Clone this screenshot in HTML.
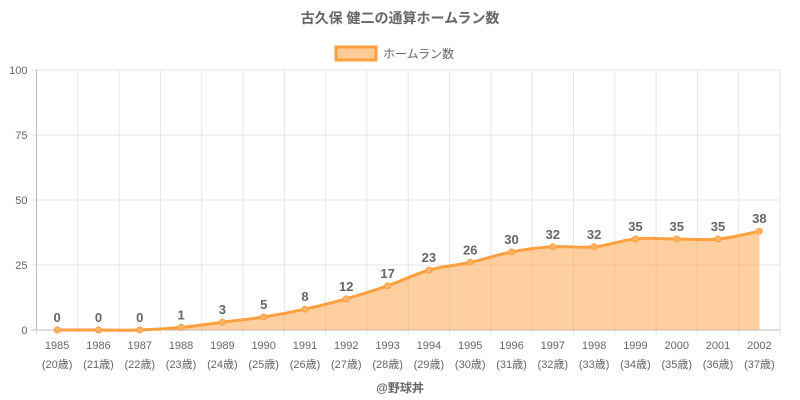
<!DOCTYPE html>
<html><head><meta charset="utf-8"><style>
html,body{margin:0;padding:0;background:#fff;}
svg{display:block;font-family:"Liberation Sans","Noto Sans CJK JP",sans-serif;}
</style></head><body>
<svg id="c" width="800" height="400" xmlns="http://www.w3.org/2000/svg">
<text x="400" y="23" text-anchor="middle" font-size="14" font-weight="bold" fill="#666">古久保 健二の通算ホームラン数</text>
<rect x="336" y="47" width="40" height="13" fill="#ffcc99" stroke="#ff9f40" stroke-width="3"/>
<text x="383" y="58" font-size="12" fill="#666">ホームラン数</text>
<text x="400" y="392" text-anchor="middle" font-size="12" font-weight="bold" fill="#666">@野球丼</text>
<g id="g"></g>
</svg>
<script>
var d=[0,0,0,1,3,5,8,12,17,23,26,30,32,32,35,35,35,38];
var L=36.5,R=780,T=70,B=330,n=18,w=(R-L)/n;
var s='';
for(var i=0;i<=n;i++){var x=L+i*w;s+='<line x1="'+x+'" y1="'+T+'" x2="'+x+'" y2="'+(B+5)+'" stroke="#e6e6e6"/>';}
for(var v=0;v<=100;v+=25){var y=B-(B-T)*v/100;s+='<line x1="'+(L-5)+'" y1="'+y+'" x2="'+R+'" y2="'+y+'" stroke="'+(v==0?'#bbb':'#e6e6e6')+'"/>';s+='<text x="'+(L-9)+'" y="'+(y+4)+'" text-anchor="end" font-size="11" fill="#666">'+v+'</text>';}
s+='<line x1="'+L+'" y1="'+T+'" x2="'+L+'" y2="'+B+'" stroke="#bbb"/>';
var P=d.map(function(v,i){return [L+w*(i+0.5),B-(B-T)*v/100];});
var p='M'+P[0][0]+','+P[0][1];
for(var i=0;i<n-1;i++){var p0=P[Math.max(0,i-1)],p1=P[i],p2=P[i+1],p3=P[Math.min(n-1,i+2)],t=0.2;
p+=' C'+(p1[0]+(p2[0]-p0[0])*t)+','+(p1[1]+(p2[1]-p0[1])*t)+' '+(p2[0]-(p3[0]-p1[0])*t)+','+(p2[1]-(p3[1]-p1[1])*t)+' '+p2[0]+','+p2[1];}
s+='<path d="'+p+' L'+P[n-1][0]+','+B+' L'+P[0][0]+','+B+'Z" fill="rgba(255,159,64,0.5)"/>';
s+='<path d="'+p+'" fill="none" stroke="#ff9f40" stroke-width="3"/>';
for(var i=0;i<n;i++){var x=P[i][0],y=P[i][1];
s+='<circle cx="'+x+'" cy="'+y+'" r="3" fill="#ffb366" stroke="#ff9f40"/>';
s+='<text x="'+x+'" y="'+(y-8)+'" text-anchor="middle" font-size="13" font-weight="bold" fill="#666">'+d[i]+'</text>';
s+='<text x="'+x+'" y="'+(B+19)+'" text-anchor="middle" font-size="11" fill="#666">'+(1985+i)+'</text>';
s+='<text x="'+x+'" y="'+(B+38)+'" text-anchor="middle" font-size="11" fill="#666">('+(20+i)+'歳)</text>';}
document.getElementById('g').innerHTML=s;
</script>
</body></html>
